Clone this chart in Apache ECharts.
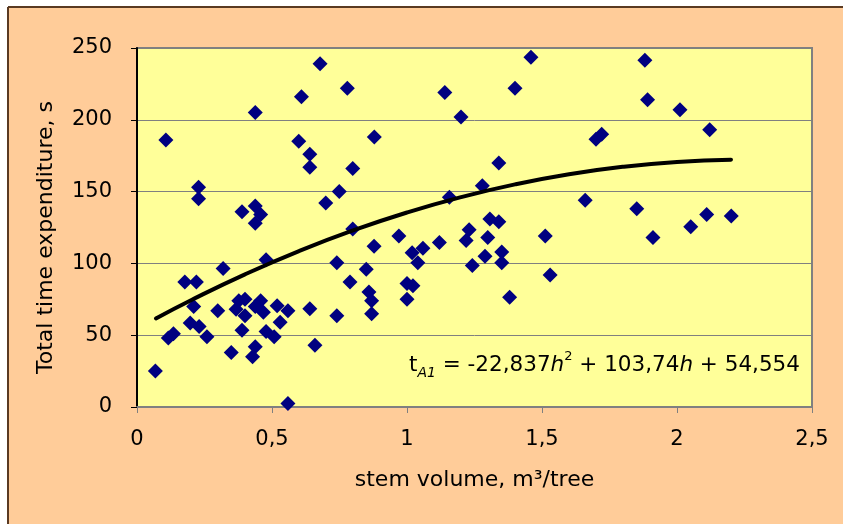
<!DOCTYPE html>
<html>
<head>
<meta charset="utf-8">
<script src="https://cdn.jsdelivr.net/npm/echarts@6/dist/echarts.min.js"></script>
<style>html,body{margin:0;padding:0;background:#fff}#c{width:843px;height:524px}</style>
</head>
<body>
<div id="c"></div>
<script>
// stem volume (m3/tree)
var stemVolume = [0.068,0.107,0.116,0.135,0.177,0.197,0.210,0.220,0.228,0.228,0.230,0.259,0.299,0.319,0.349,0.367,0.377,0.389,0.389,0.400,0.400,0.428,0.438,0.438,0.438,0.438,0.438,0.458,0.458,0.468,0.478,0.478,0.508,0.519,0.530,0.559,0.559,0.599,0.609,0.640,0.640,0.640,0.659,0.678,0.699,0.740,0.740,0.749,0.779,0.789,0.799,0.799,0.849,0.859,0.869,0.869,0.878,0.879,0.970,1.000,1.000,1.019,1.022,1.040,1.059,1.120,1.140,1.157,1.200,1.219,1.230,1.242,1.279,1.289,1.299,1.307,1.340,1.340,1.351,1.351,1.380,1.400,1.459,1.512,1.530,1.660,1.700,1.721,1.851,1.881,1.891,1.911,2.011,2.051,2.110,2.121,2.201];
// total time expenditure (s)
var totalTime = [25,186,48,51,87,58.5,70,87,153,145,56,49,67,96.5,38,68,74,136,53.5,75,63.5,35,205,140,128,70,42,134,74,66,102.5,52.5,49,70.5,59,67,2.5,185,216,176,167,68.5,43,239,142,100.5,63.5,150,222,87,166,124,96,80,74,65,112,188,119,86,75,107.5,84.5,100.5,110.5,114.5,219,146,202,116,123.5,98.5,154,105,118,131,129,170,108,100.5,76.5,222,243.5,119,92,144,186.5,190,138,241.5,214,118,207,125.5,134,193,133];
// trend line t = -22,837h^2 + 103,74h + 54,554 (values at listed h)
var trendH = [0.07,0.2,0.4,0.6,0.8,1.0,1.2,1.4,1.6,1.8,2.0,2.2];
var trendT = [61.70,74.39,92.40,108.58,122.93,135.46,146.16,155.03,162.08,167.29,170.69,172.25];
var xTicks = {0:'0',0.5:'0,5',1:'1',1.5:'1,5',2:'2',2.5:'2,5'};

var FONT = 'DejaVu Sans';
var scatterData = stemVolume.map(function(v,i){return [v,totalTime[i]];});
var trendData = trendH.map(function(v,i){return [v,trendT[i]];});

var chart = echarts.init(document.getElementById('c'));
chart.setOption({
  backgroundColor:'#FFCC99',
  animation:false,
  textStyle:{fontFamily:FONT},
  grid:{left:137,right:31,top:48,bottom:117,show:true,backgroundColor:'#FFFF99',borderColor:'#808080',borderWidth:2},
  xAxis:{
    type:'value',min:0,max:2.5,interval:0.5,
    name:'stem volume, m³/tree',nameLocation:'middle',nameGap:62,
    nameTextStyle:{fontFamily:FONT,fontSize:22,color:'#000'},
    axisLine:{show:true,onZero:false,lineStyle:{color:'#808080',width:2}},
    axisTick:{show:true,inside:false,length:6,lineStyle:{color:'#808080',width:1}},
    splitLine:{show:false},
    axisLabel:{fontFamily:FONT,fontSize:21,color:'#000',margin:22,formatter:function(v){return xTicks[v]!==undefined?xTicks[v]:String(v).replace('.',',');}}
  },
  yAxis:{
    type:'value',min:0,max:250,interval:50,
    name:'Total time expenditure, s',nameLocation:'middle',nameGap:80,
    nameTextStyle:{fontFamily:FONT,fontSize:22,color:'#000',padding:[0,20,0,0]},
    axisLine:{show:true,onZero:false,lineStyle:{color:'#000',width:2}},
    axisTick:{show:true,inside:false,length:6,lineStyle:{color:'#000',width:1}},
    splitLine:{show:true,lineStyle:{color:'#808080',width:1}},
    axisLabel:{fontFamily:FONT,fontSize:21,color:'#000',margin:25}
  },
  graphic:[
    {type:'rect',shape:{x:0,y:0,width:843,height:7},style:{fill:'#fff'},z:100},
    {type:'rect',shape:{x:0,y:0,width:8,height:524},style:{fill:'#fff'},z:100},
    {type:'line',shape:{x1:8,y1:7,x2:843,y2:7},style:{stroke:'#5a3a22',lineWidth:2},z:101},
    {type:'line',shape:{x1:8,y1:7,x2:8,y2:524},style:{stroke:'#5a3a22',lineWidth:2},z:101},
    {type:'text',left:409,top:350,z:50,style:{
      text:'t{sub|A1} = -22,837{it|h}{sup|2} + 103,74{it|h} + 54,554',
      fontFamily:FONT,fontSize:21.5,fill:'#000',
      rich:{
        sub:{fontFamily:FONT,fontSize:14,fontStyle:'italic',verticalAlign:'bottom',lineHeight:30},
        sup:{fontFamily:FONT,fontSize:13,verticalAlign:'top',lineHeight:30},
        it:{fontFamily:FONT,fontSize:21.5,fontStyle:'italic'}
      }
    }}
  ],
  series:[
    {type:'scatter',data:scatterData,symbol:'diamond',symbolSize:15,itemStyle:{color:'#000080',opacity:1},z:3},
    {type:'line',data:trendData,smooth:true,showSymbol:false,symbol:'none',lineStyle:{color:'#000',width:4,cap:'round'},z:4}
  ]
});
</script>
</body>
</html>
